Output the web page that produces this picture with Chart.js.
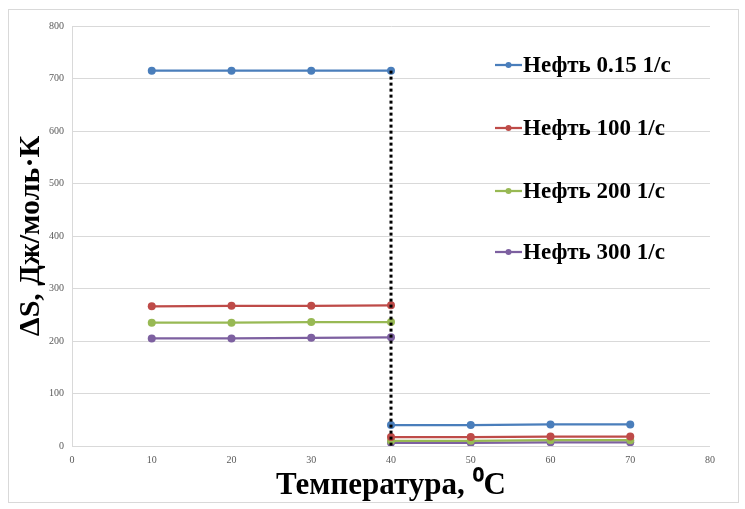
<!DOCTYPE html>
<html>
<head>
<meta charset="utf-8">
<script src="https://cdn.jsdelivr.net/npm/chart.js@4"></script>
<style>
  html, body { margin: 0; padding: 0; background: #fff; }
  #wrap { position: relative; width: 745px; height: 509px; }
  #frame { position: absolute; left: 8px; top: 9px; right: 6px; bottom: 6px; border: 1px solid #d9d9d9; pointer-events: none; }
</style>
</head>
<body>
<div id="wrap">
  <canvas id="chart" width="745" height="509"></canvas>
  <div id="frame"></div>
</div>
<script>
// Temperatures (°C) for the low-temperature and high-temperature segments
const tempsLow = [10, 20, 30, 40];
const tempsHigh = [40, 50, 60, 70];

// ΔS values, J/(mol·K)
const oil015Left = [715, 715, 715, 715];
const oil015Right = [40, 40, 41, 41];
const oil100Left = [266, 267, 267, 268];
const oil100Right = [17, 17, 18, 18];
const oil200Left = [235, 235, 236, 236];
const oil200Right = [10, 10, 11, 11];
const oil300Left = [205, 205, 206, 207];
const oil300Right = [6, 6, 7, 7];

const seriesLabels = ["Нефть 0.15 1/с", "Нефть 100 1/с", "Нефть 200 1/с", "Нефть 300 1/с"];
const seriesColors = ["#4a7ebb", "#be4b48", "#98b954", "#7d60a0"];

// Dotted transition line at 40 °C
const transitionX = [40, 40];
const transitionY = [715, 0];

const xTicks = [0, 10, 20, 30, 40, 50, 60, 70, 80];

function points(xs, ys) {
  return xs.map((x, i) => ({ x, y: ys[i] }));
}

// one dataset per series: the two segments are split by a null point
function joined(leftY, rightY) {
  return [...points(tempsLow, leftY), { x: 40, y: null }, ...points(tempsHigh, rightY)];
}

const seriesData = [
  joined(oil015Left, oil015Right),
  joined(oil100Left, oil100Right),
  joined(oil200Left, oil200Right),
  joined(oil300Left, oil300Right),
];

const datasets = seriesData.map((data, i) => ({
  label: seriesLabels[i],
  data,
  borderColor: seriesColors[i],
  backgroundColor: seriesColors[i],
  borderWidth: 2.25,
  pointRadius: 4,
  pointBorderWidth: 0,
  spanGaps: false,
  order: 2,
}));

datasets.push({
  label: "",
  data: points(transitionX, transitionY),
  borderColor: "#000",
  borderWidth: 3,
  borderDash: [3, 3],
  pointRadius: 0,
  order: 1,
});

// Legend drawn inside the plot area, over the gridlines, like the original
const sideLegend = {
  id: "sideLegend",
  afterDraw(chart) {
    const ctx = chart.ctx;
    const rows = [65, 128, 191, 252];
    ctx.save();
    seriesLabels.forEach((label, i) => {
      const y = rows[i];
      ctx.strokeStyle = seriesColors[i];
      ctx.lineWidth = 2.25;
      ctx.beginPath();
      ctx.moveTo(495, y);
      ctx.lineTo(522, y);
      ctx.stroke();
      ctx.fillStyle = seriesColors[i];
      ctx.beginPath();
      ctx.arc(508.5, y, 3, 0, Math.PI * 2);
      ctx.fill();
      ctx.fillStyle = "#000";
      ctx.font = "bold 23px 'Liberation Serif', 'Times New Roman', serif";
      ctx.textBaseline = "middle";
      ctx.textAlign = "left";
      ctx.fillText(label, 523, y + 1);
    });
    ctx.restore();
  },
};

const tickFont = { family: "'Liberation Serif', 'Times New Roman', serif", size: 10 };
const serif = "'Liberation Serif', 'Times New Roman', serif";

new Chart(document.getElementById("chart"), {
  type: "line",
  data: { datasets },
  plugins: [sideLegend],
  options: {
    responsive: false,
    animation: false,
    layout: { padding: { top: 26, right: 35, left: 0, bottom: 0 } },
    plugins: { legend: { display: false }, tooltip: { enabled: false } },
    scales: {
      x: {
        type: "linear",
        min: 0,
        max: 80,
        afterBuildTicks: (scale) => { scale.ticks = xTicks.map((value) => ({ value })); },
        grid: { display: false, drawTicks: false },
        border: { display: false },
        ticks: { color: "#595959", font: tickFont, padding: 8 },
        title: { display: true, text: "Температура, ⁰С", color: "#000", font: { family: serif, size: 31, weight: "bold" }, padding: { top: 2, bottom: 4 } },
        afterFit: (scale) => { scale.height = 63; },
      },
      y: {
        min: 0,
        max: 800,
        ticks: { stepSize: 100, color: "#595959", font: tickFont, padding: 8 },
        grid: { color: "#d9d9d9", drawTicks: false },
        border: { display: true, color: "#d9d9d9" },
        title: { display: true, text: "ΔS, Дж/моль·К", color: "#000", font: { family: serif, size: 30, weight: "bold" }, padding: { top: 13, bottom: 0 } },
        afterFit: (scale) => { scale.width = 72; },
      },
    },
  },
});
</script>
</body>
</html>
